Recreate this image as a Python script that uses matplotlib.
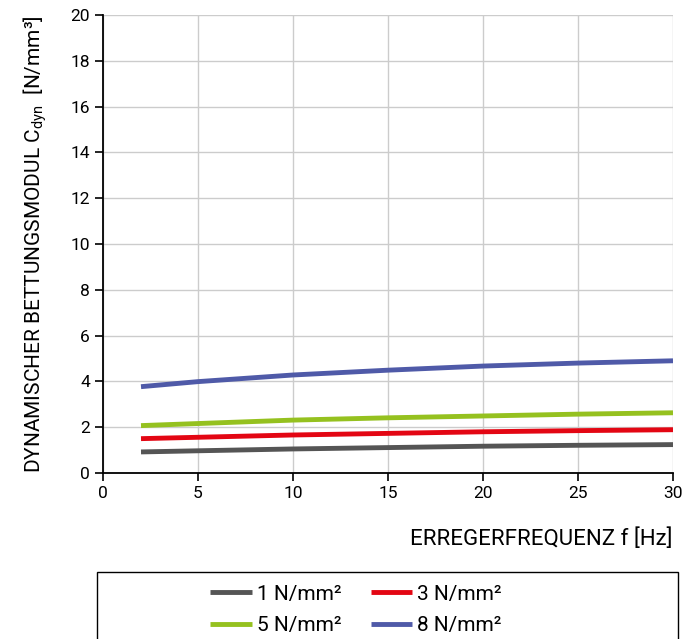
import matplotlib
matplotlib.use("Agg")
import matplotlib.pyplot as plt
from matplotlib.patches import Rectangle

# Werte
freq = [2, 5, 10, 15, 20, 25, 30]
c_1 = [0.92, 0.97, 1.05, 1.11, 1.17, 1.21, 1.24]
c_3 = [1.50, 1.56, 1.66, 1.73, 1.80, 1.85, 1.89]
c_5 = [2.07, 2.16, 2.31, 2.41, 2.49, 2.57, 2.63]
c_8 = [3.77, 3.99, 4.28, 4.49, 4.67, 4.80, 4.90]
labels = ["1 N/mm²", "3 N/mm²", "5 N/mm²", "8 N/mm²"]
colors = ["#555555", "#e30613", "#95c11f", "#4f5aa8"]

plt.rcParams['font.family'] = ['Roboto', 'DejaVu Sans']
plt.rcParams['mathtext.fontset'] = 'custom'
plt.rcParams['mathtext.rm'] = 'Roboto'

fig = plt.figure(figsize=(7, 6.39), dpi=100)
ax = fig.add_axes([103/700, 1 - 473/639, 570/700, 458/639])

lines = []
for vals, lab, col in zip([c_1, c_3, c_5, c_8], labels, colors):
    l, = ax.plot(freq, vals, color=col, lw=3.5, label=lab, solid_capstyle='butt')
    lines.append(l)

ax.set_xlim(0, 30)
ax.set_ylim(0, 20)
ax.set_xticks(range(0, 31, 5))
ax.set_yticks(range(0, 21, 2))
ax.grid(True, color='#cccccc', lw=1)
ax.set_axisbelow(True)
ax.spines['top'].set_visible(False)
ax.spines['right'].set_visible(False)
ax.spines['left'].set_linewidth(1.3)
ax.spines['bottom'].set_linewidth(1.3)
ax.tick_params(labelsize=12.5, length=6, width=1.2, direction='out')

ax.set_ylabel("DYNAMISCHER BETTUNGSMODUL C$_{\\mathrm{dyn}}$  [N/mm³]", fontsize=15)
ax.yaxis.set_label_coords(-0.095, 0.5)
ax.set_xlabel("ERREGERFREQUENZ f [Hz]", fontsize=16, ha='right')
ax.xaxis.set_label_coords(1.0, -0.12)

# Rahmen der Legende
fig.patches.append(Rectangle((97/700, -0.05), 581/700, 0.05 + (639 - 572)/639,
                             transform=fig.transFigure, fill=False, ec='black', lw=1))

fig.legend(handles=[lines[0], lines[2], lines[1], lines[3]],
           labels=[labels[0], labels[2], labels[1], labels[3]],
           ncol=2, frameon=False, fontsize=15, loc='upper center',
           bbox_to_anchor=(356/700, 1 - 566/639), handlelength=2.0,
           columnspacing=1.4, handletextpad=0.25, labelspacing=0.6)

fig.savefig("out.png", dpi=100)
